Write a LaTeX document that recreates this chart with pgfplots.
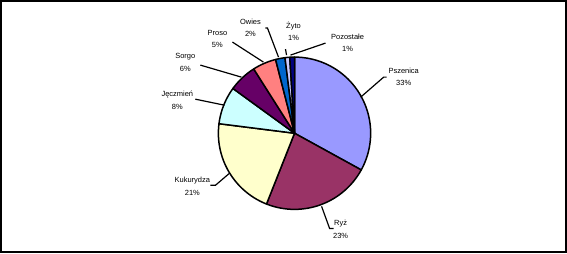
\documentclass[border=0pt]{standalone}
\usepackage{pgfplots}
\pgfplotsset{compat=1.18}
\usepackage{fontspec}
\setmainfont{Liberation Sans}
\definecolor{cPsz}{HTML}{9999FF}
\definecolor{cRyz}{HTML}{993366}
\definecolor{cKuk}{HTML}{FFFFCC}
\definecolor{cJec}{HTML}{CCFFFF}
\definecolor{cSor}{HTML}{660066}
\definecolor{cPro}{HTML}{FF8080}
\definecolor{cOwi}{HTML}{0066CC}
\definecolor{cZyt}{HTML}{CCCCFF}
\definecolor{cPoz}{HTML}{000080}
\tikzset{lbl/.style={font=\fontsize{7.5}{12.5}\selectfont, align=center, inner sep=0pt}}
% shares in percent
\def\vA{33}\def\vB{23}\def\vC{21}\def\vD{8}\def\vE{6}\def\vF{5}\def\vG{2}\def\vH{1}\def\vI{1}
\pgfmathsetmacro\sA{90}
\pgfmathsetmacro\eA{\sA-3.6*\vA}
\pgfmathsetmacro\eB{\eA-3.6*\vB}
\pgfmathsetmacro\eC{\eB-3.6*\vC}
\pgfmathsetmacro\eD{\eC-3.6*\vD}
\pgfmathsetmacro\eE{\eD-3.6*\vE}
\pgfmathsetmacro\eF{\eE-3.6*\vF}
\pgfmathsetmacro\eG{\eF-3.6*\vG}
\pgfmathsetmacro\eH{\eG-3.6*\vH}
\pgfmathsetmacro\eI{\eH-3.6*\vI}
\newcommand\slice[3]{\addplot[fill=#3, draw=black, line width=1.5pt, line join=round, domain=#2:#1, samples=60] ({294+76*cos(x)},{122+76*sin(x)}) -- (axis cs:294,122) -- cycle;}
\begin{document}
\begin{tikzpicture}
\begin{axis}[x=1bp, y=1bp, xmin=0, xmax=567, ymin=0, ymax=255, hide axis, clip=false]
\addplot[black, line width=2.5pt, line join=miter] coordinates {(1.25,253.75) (564.75,253.75) (564.75,3.25) (1.25,3.25)} -- cycle;
\slice{\sA}{\eA}{cPsz}
\slice{\eA}{\eB}{cRyz}
\slice{\eB}{\eC}{cKuk}
\slice{\eC}{\eD}{cJec}
\slice{\eD}{\eE}{cSor}
\slice{\eE}{\eF}{cPro}
\slice{\eF}{\eG}{cOwi}
\slice{\eG}{\eH}{cZyt}
\slice{\eH}{\eI}{cPoz}
% leader lines
\addplot[black, line width=1.2pt] coordinates {(360,158) (383,178) (386,178)};
\addplot[black, line width=1.2pt] coordinates {(321,49) (329,27) (333,27)};
\addplot[black, line width=1.2pt] coordinates {(229,82) (215,70) (210,70)};
\addplot[black, line width=1.2pt] coordinates {(224,150) (195,156)};
\addplot[black, line width=1.2pt] coordinates {(241,178) (200,190)};
\addplot[black, line width=1.2pt] coordinates {(263,193) (232,213)};
\addplot[black, line width=1.2pt] coordinates {(278,198) (267,227) (265,227)};
\addplot[black, line width=1.2pt] coordinates {(286,200) (285,206)};
\addplot[black, line width=1.2pt] coordinates {(290,200) (325,212)};
% labels
\node[lbl] at (axis cs:403,178.5) {Pszenica\\33\%};
\node[lbl] at (axis cs:340,26) {Ryż\\23\%};
\node[lbl] at (axis cs:192,69) {Kukurydza\\21\%};
\node[lbl] at (axis cs:177,155) {Jęczmień\\8\%};
\node[lbl] at (axis cs:185,192.5) {Sorgo\\6\%};
\node[lbl] at (axis cs:217,216) {Proso\\5\%};
\node[lbl] at (axis cs:250,227) {Owies\\2\%};
\node[lbl] at (axis cs:293,224) {Żyto\\1\%};
\node[lbl] at (axis cs:347,212.5) {Pozostałe\\1\%};
\end{axis}
\end{tikzpicture}
\end{document}
